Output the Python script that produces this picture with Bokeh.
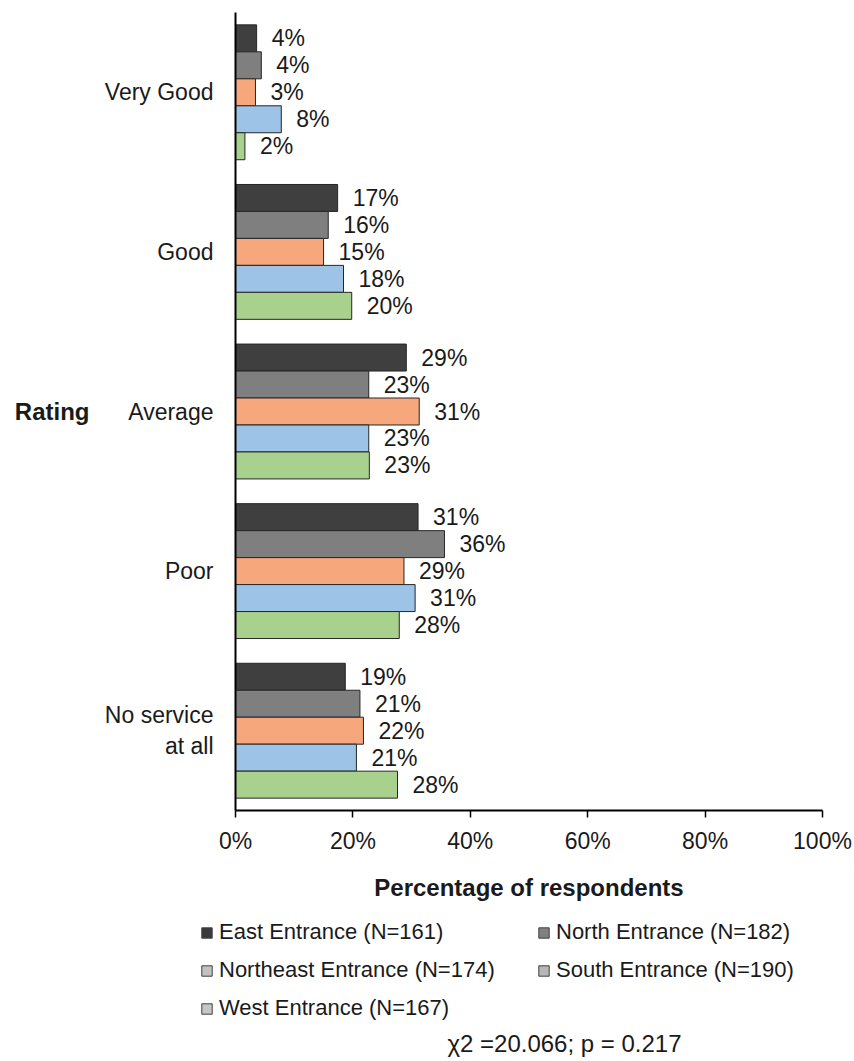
from bokeh.plotting import figure
from bokeh.layouts import column
from bokeh.models import (ColumnDataSource, FactorRange, Range1d, Legend, Label,
                          LegendItem, FixedTicker, PrintfTickFormatter, LinearAxis)
from bokeh.transform import dodge
from bokeh.core.properties import value
from bokeh.embed import file_html
from bokeh.resources import INLINE

# ---------------- data ----------------
categories = ["Very Good", "Good", "Average", "Poor", "No service\nat all"]
series_names = ["East Entrance (N=161)", "North Entrance (N=182)",
                "Northeast Entrance (N=174)", "South Entrance (N=190)",
                "West Entrance (N=167)"]
east = [3.6, 17.4, 29.1, 31.1, 18.7]
north = [4.4, 15.8, 22.7, 35.6, 21.2]
northeast = [3.4, 15.0, 31.3, 28.7, 21.8]
south = [7.8, 18.4, 22.7, 30.6, 20.6]
west = [1.6, 19.8, 22.8, 27.9, 27.6]
east_lbl = ["4%", "17%", "29%", "31%", "19%"]
north_lbl = ["4%", "16%", "23%", "36%", "21%"]
northeast_lbl = ["3%", "15%", "31%", "29%", "22%"]
south_lbl = ["8%", "18%", "23%", "31%", "21%"]
west_lbl = ["2%", "20%", "23%", "28%", "28%"]
x_ticks = [0, 20, 40, 60, 80, 100]
y_title = "Rating"
x_title = "Percentage of respondents"
stat_text = "\u03c72 =20.066; p = 0.217"

series_values = [east, north, northeast, south, west]
series_labels = [east_lbl, north_lbl, northeast_lbl, south_lbl, west_lbl]
bar_colors = ["#3f3f3f", "#7f7f7f", "#f6a77c", "#9dc3e6", "#a9d18e"]
legend_colors = ["#3a3a3a", "#808080", "#c2c2c2", "#b6b6b6", "#c6c6c6"]
offsets = [0.338, 0.169, 0.0, -0.169, -0.338]
BAR_H = 0.169

FONT = "Liberation Sans"
TXT = "#1a1a1a"

# ---------------- main chart ----------------
p = figure(y_range=FactorRange(factors=categories[::-1], range_padding=0),
           x_range=Range1d(0, 100),
           frame_width=587, frame_height=798,
           min_border_left=235, min_border_right=32,
           min_border_top=12, min_border_bottom=95,
           output_backend="svg", toolbar_location=None)
p.outline_line_color = None
p.xgrid.grid_line_color = None
p.ygrid.grid_line_color = None
p.background_fill_color = "white"
p.border_fill_color = "white"

for vals, lbls, col, off in zip(series_values, series_labels, bar_colors, offsets):
    src = ColumnDataSource(dict(cat=categories, v=vals, lbl=lbls))
    p.hbar(y=dodge("cat", off, range=p.y_range), right="v", left=0, height=BAR_H,
           source=src, fill_color=col, line_color="#262626", line_width=1)
    p.text(x="v", y=dodge("cat", off, range=p.y_range), text="lbl", source=src,
           x_offset=15, text_align="left", text_baseline="middle",
           text_font=value(FONT), text_font_size="23px", text_color=TXT)

xa = p.xaxis[0]
xa.ticker = FixedTicker(ticks=x_ticks)
xa.formatter = PrintfTickFormatter(format="%d%%")
xa.axis_line_color = "black"
xa.axis_line_width = 2
xa.major_tick_line_color = "black"
xa.major_tick_line_width = 1.5
xa.major_tick_out = 7
xa.major_tick_in = 0
xa.minor_tick_line_color = None
xa.major_label_text_font = FONT
xa.major_label_text_font_size = "23px"
xa.major_label_text_color = TXT
xa.major_label_standoff = 10
xa.axis_label = x_title
xa.axis_label_text_font = FONT
xa.axis_label_text_font_size = "24px"
xa.axis_label_text_font_style = "bold"
xa.axis_label_text_color = TXT
xa.axis_label_standoff = 17

ya = p.yaxis[0]
ya.axis_line_color = "black"
ya.axis_line_width = 2
ya.major_tick_line_color = None
ya.minor_tick_line_color = None
ya.major_tick_out = 0
ya.major_tick_in = 0
ya.major_label_standoff = 22
ya.major_label_text_font = FONT
ya.major_label_text_font_size = "23px"
ya.major_label_text_color = TXT

# horizontal "Rating" title as a second, line-less axis on the left
rating_pos = categories[::-1].index("Average") + 0.5
ax2 = LinearAxis(ticker=FixedTicker(ticks=[rating_pos]),
                 major_label_overrides={rating_pos: y_title},
                 axis_line_color=None, major_tick_line_color=None,
                 minor_tick_line_color=None, major_tick_out=0, major_tick_in=0,
                 major_label_standoff=12, major_label_text_font=FONT,
                 major_label_text_font_size="24px", major_label_text_font_style="bold",
                 major_label_text_color=TXT)
p.add_layout(ax2, "left")

# ---------------- legend + statistic strip ----------------
W2, H2 = 854, 156
q = figure(width=W2, height=H2, x_range=Range1d(0, W2), y_range=Range1d(0, H2),
           x_axis_type=None, y_axis_type=None, min_border=0,
           output_backend="svg", toolbar_location=None)
q.outline_line_color = None
q.xgrid.grid_line_color = None
q.ygrid.grid_line_color = None
q.border_fill_color = "white"
for fig in (p, q):
    if "frame_align" in fig.properties():
        fig.frame_align = False

items = []
for name, lc in zip(series_names, legend_colors):
    # off-canvas swatch source so the legend has a glyph to draw
    r = q.hbar(y=[-1000], right=[1], left=0, height=1, fill_color=lc,
               line_color="#404040", line_width=1)
    items.append(LegendItem(label=name, renderers=[r]))
legend = Legend(items=items, location=(200, 40), orientation="horizontal", ncols=2,
                glyph_width=13, glyph_height=13, label_standoff=6,
                label_text_font=FONT, label_text_font_size="22px",
                label_text_color=TXT, label_height=24, label_width=306,
                spacing=12, padding=0, margin=0,
                border_line_color=None, background_fill_alpha=0)
q.add_layout(legend, "center")

q.add_layout(Label(x=564, y=18, text=stat_text, text_align="center",
                   text_baseline="middle", text_font=FONT, text_font_size="24px",
                   text_color=TXT))

layout = column(p, q, spacing=0)
open("out.html", "w").write(file_html(layout, INLINE))
